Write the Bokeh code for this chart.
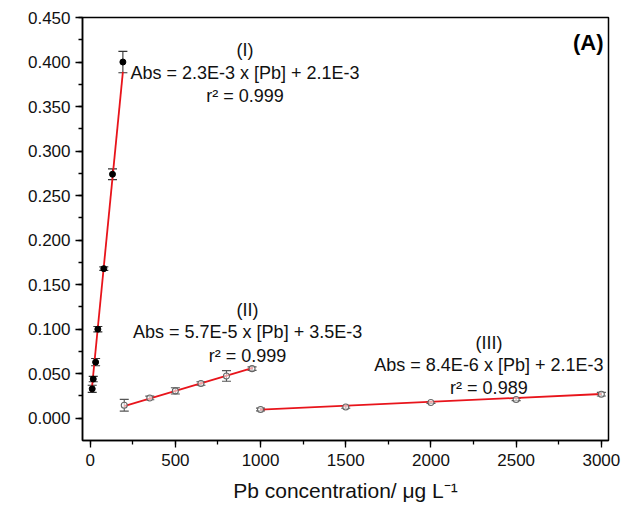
from bokeh.plotting import figure
from bokeh.models import (ColumnDataSource, Whisker, TeeHead, Range1d, FixedTicker,
                          NumeralTickFormatter, Label)
from bokeh.embed import file_html
from bokeh.resources import INLINE

# ---- data ----
x_I = [12, 18, 32, 45, 80, 131, 192]
y_I = [0.033, 0.044, 0.063, 0.100, 0.168, 0.274, 0.400]
e_I = [0.004, 0.003, 0.004, 0.003, 0.002, 0.006, 0.012]

x_II = [200, 350, 500, 650, 800, 950]
y_II = [0.0146, 0.0228, 0.0307, 0.039, 0.0475, 0.0557]
e_II = [0.0066, 0.002, 0.0035, 0.002, 0.006, 0.002]

x_III = [1000, 1500, 2000, 2500, 3000]
y_III = [0.0098, 0.0127, 0.0176, 0.021, 0.027]
e_III = [0.0015, 0.0015, 0.001, 0.0012, 0.002]

fit_I_x = [8, 192]
fit_I_y = [0.0295, 0.389]
fit_II_x = [200, 955]
fit_II_y = [0.0135, 0.0565]
fit_III_x = [1000, 3000]
fit_III_y = [0.0096, 0.0272]

x_ticks = [0, 500, 1000, 1500, 2000, 2500, 3000]
y_ticks = [0.0, 0.05, 0.10, 0.15, 0.20, 0.25, 0.30, 0.35, 0.40, 0.45]

eq_I = ["(I)", "Abs = 2.3E-3 x [Pb] + 2.1E-3", "r\u00b2 = 0.999"]
eq_II = ["(II)", "Abs = 5.7E-5 x [Pb] + 3.5E-3", "r\u00b2 = 0.999"]
eq_III = ["(III)", "Abs = 8.4E-6 x [Pb] + 2.1E-3", "r\u00b2 = 0.989"]
panel_label = "(A)"
x_title = "Pb concentration/ \u03bcg L\u207b\u00b9"

FONT = "Liberation Sans"

p = figure(width=622, height=512, output_backend="svg", toolbar_location=None,
           x_range=Range1d(-45, 3042), y_range=Range1d(-0.025, 0.45),
           min_border_left=82, min_border_right=14, min_border_top=17,
           min_border_bottom=72)
p.grid.visible = False
p.outline_line_color = "black"
p.outline_line_width = 1.5
p.background_fill_color = "white"
p.border_fill_color = "white"

for ax in (p.xaxis[0], p.yaxis[0]):
    ax.axis_line_width = 1.5
    ax.axis_line_color = "black"
    ax.major_tick_line_color = "black"
    ax.minor_tick_line_color = "black"
    ax.major_tick_line_width = 1.3
    ax.minor_tick_line_width = 1.3
    ax.major_tick_in = 0
    ax.major_tick_out = 7
    ax.minor_tick_in = 0
    ax.minor_tick_out = 4
    ax.major_label_text_font = FONT
    ax.major_label_text_font_size = "17px"
    ax.major_label_text_color = "#111111"

xt = list(range(0, 3001, 250))
yt = [i * 0.025 for i in range(0, 19)]
p.xaxis[0].ticker = FixedTicker(ticks=x_ticks, minor_ticks=xt)
p.yaxis[0].ticker = FixedTicker(ticks=y_ticks, minor_ticks=yt)
p.yaxis[0].formatter = NumeralTickFormatter(format="0.000")
p.xaxis[0].major_label_standoff = 6
p.yaxis[0].major_label_standoff = 5

p.xaxis[0].axis_label = x_title
p.xaxis[0].axis_label_text_font = FONT
p.xaxis[0].axis_label_text_font_style = "normal"
p.xaxis[0].axis_label_text_font_size = "21px"
p.xaxis[0].axis_label_text_color = "#111111"
p.xaxis[0].axis_label_standoff = 10

# fit lines
red = "#e8141b"
p.line(fit_I_x, fit_I_y, line_color=red, line_width=1.8)
p.line(fit_II_x, fit_II_y, line_color=red, line_width=1.8)
p.line(fit_III_x, fit_III_y, line_color=red, line_width=1.8)

# error bars + markers
def add_series(xs, ys, es, filled):
    src = ColumnDataSource(dict(x=xs, y=ys,
                                lo=[a - b for a, b in zip(ys, es)],
                                hi=[a + b for a, b in zip(ys, es)]))
    col = "#333333" if filled else "#555555"
    w = Whisker(base="x", upper="hi", lower="lo", source=src,
                line_color=col, line_width=1.1,
                upper_head=TeeHead(size=9, line_color=col, line_width=1.1),
                lower_head=TeeHead(size=9, line_color=col, line_width=1.1))
    p.add_layout(w)
    if filled:
        p.scatter("x", "y", source=src, size=6, fill_color="black",
                  line_color="black")
    else:
        p.scatter("x", "y", source=src, size=6, fill_color="white",
                  fill_alpha=0.6, line_color="#666666", line_width=1.1)

add_series(x_I, y_I, e_I, True)
add_series(x_II, y_II, e_II, False)
add_series(x_III, y_III, e_III, False)

# equation texts
def eq_block(lines, xc, ys):
    for t, yy in zip(lines, ys):
        p.add_layout(Label(x=xc, y=yy, text=t, text_align="center",
                           text_baseline="middle", text_font=FONT,
                           text_font_size="18px", text_color="#111111"))

eq_block(eq_I, 909, [0.413, 0.388, 0.3614])
eq_block(eq_II, 924, [0.1212, 0.0965, 0.0696])
eq_block(eq_III, 2340, [0.0842, 0.0595, 0.0337])

p.add_layout(Label(x=3013, y=0.422, text=panel_label, text_align="right",
                   text_baseline="middle", text_font=FONT,
                   text_font_style="bold", text_font_size="22px",
                   text_color="black"))

# stray dash at far left of the reference
p.add_layout(Label(x=-82, y=350, x_units="screen", y_units="screen", text="\u2014",
                   text_font=FONT, text_font_size="22px",
                   text_color="#444444", text_baseline="middle"))

open("out.html", "w").write(file_html(p, INLINE))
